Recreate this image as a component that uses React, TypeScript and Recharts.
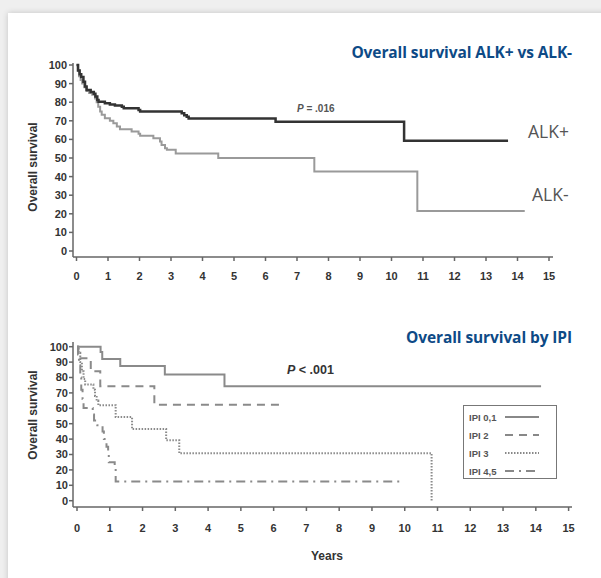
import React from "react";
import { LineChart, Line, XAxis, YAxis, Legend } from "recharts";

// Kaplan-Meier steps: [years, % surviving]
const alkPosPoints = [
  [0, 100], [0.05, 97], [0.1, 95], [0.15, 93.5], [0.22, 91], [0.27, 88.5],
  [0.32, 86.5], [0.45, 85.5], [0.55, 84.5], [0.6, 83], [0.66, 81.2],
  [0.7, 80.3], [0.9, 79.4], [1.06, 78.8], [1.22, 78.2], [1.44, 77.6],
  [1.5, 76.7], [1.97, 75.8], [2.02, 75], [3.34, 74], [3.42, 73],
  [3.5, 72.2], [3.56, 71.3], [6.32, 69.5], [10.4, 59.3], [13.7, 59.3],
];
const alkNegPoints = [
  [0, 100], [0.04, 97], [0.08, 94], [0.13, 92], [0.18, 90], [0.25, 88],
  [0.32, 86], [0.4, 85], [0.5, 84], [0.59, 82], [0.64, 80], [0.69, 77.6],
  [0.75, 75], [0.8, 73.2], [0.9, 71.4], [1.06, 70], [1.17, 68.7],
  [1.28, 66.9], [1.38, 65.5], [1.75, 64.2], [1.97, 63], [2.02, 61.9],
  [2.44, 60.6], [2.65, 58.9], [2.7, 57], [2.81, 55.3], [2.87, 54.4],
  [3.15, 52.4], [4.5, 50], [7.55, 42.8], [10.82, 21.5], [14.23, 21.5],
];
const ipi01Points = [
  [0, 100], [0.72, 96.5], [0.77, 92], [1.32, 87.5], [2.68, 82], [4.5, 74.3],
  [14.16, 74.3],
];
const ipi2Points = [
  [0, 100], [0.04, 92.5], [0.42, 84], [0.71, 74.3], [2.36, 62.3], [6.22, 62.3],
];
const ipi3Points = [
  [0, 100], [0.05, 96], [0.1, 90], [0.15, 84], [0.2, 79], [0.25, 75.5],
  [0.5, 72], [0.55, 68], [0.6, 65], [0.65, 62], [1.18, 54.3], [1.68, 46.5],
  [2.72, 39.2], [3.12, 30.8], [10.82, 30.8], [10.82, 0],
];
const ipi45Points = [
  [0, 100], [0.03, 95], [0.06, 88], [0.1, 80], [0.13, 72], [0.17, 66],
  [0.2, 60.2], [0.48, 56], [0.52, 52], [0.62, 49], [0.78, 45], [0.82, 40],
  [0.9, 35], [0.95, 29.8], [0.97, 25], [1.15, 21], [1.18, 12.5], [9.85, 12.5],
];

const yearTicks = [0, 1, 2, 3, 4, 5, 6, 7, 8, 9, 10, 11, 12, 13, 14, 15];
const survivalTicks = [0, 10, 20, 30, 40, 50, 60, 70, 80, 90, 100];

const toRows = (pts: number[][]) => pts.map(([t, s]) => ({ t, s }));

const ipiSeries = [
  { name: "IPI 0,1", data: toRows(ipi01Points), dash: undefined },
  { name: "IPI 2", data: toRows(ipi2Points), dash: "8 6" },
  { name: "IPI 3", data: toRows(ipi3Points), dash: "1.5 1.5" },
  { name: "IPI 4,5", data: toRows(ipi45Points), dash: "9 5 2 5" },
];

const axisFont = "'Liberation Sans', Arial, sans-serif";
const tickStyle = { fill: "#333", fontSize: 11, fontWeight: 700, fontFamily: axisFont };
const titleStyle: React.CSSProperties = {
  position: "absolute",
  right: 29,
  fontFamily: "'Open Sans', sans-serif",
  fontWeight: 700,
  fontSize: 15.5,
  letterSpacing: -0.1,
  color: "#0d4a86",
  lineHeight: "18px",
  whiteSpace: "nowrap",
  transform: "translateY(-50%)",
};

const yLabel = (cy: number): React.CSSProperties => ({
  position: "absolute",
  left: 33,
  top: cy,
  transform: "translate(-50%, -50%) rotate(-90deg)",
  fontFamily: axisFont,
  fontWeight: 700,
  fontSize: 12,
  color: "#333",
  whiteSpace: "nowrap",
});

const IpiLegend = () => (
  <div
    style={{
      position: "absolute",
      left: 463,
      top: 405,
      width: 92,
      height: 72,
      border: "1.5px solid #777",
      background: "#fff",
    }}
  >
    {ipiSeries.map((s, i) => (
      <div
        key={s.name}
        style={{ position: "absolute", left: 5, top: 4 + i * 18, height: 14, display: "flex", alignItems: "center" }}
      >
        <span style={{ width: 36, fontFamily: axisFont, fontWeight: 700, fontSize: 9.5, color: "#555" }}>{s.name}</span>
        <svg width={34} height={6}>
          <line x1={0} y1={3} x2={34} y2={3} stroke="#888" strokeWidth={2} strokeDasharray={s.dash} />
        </svg>
      </div>
    ))}
  </div>
);

export default function App() {
  return (
    <div style={{ position: "absolute", left: 0, top: 0, width: 601, height: 578, background: "#efefef", overflow: "hidden" }}>
      <div
        style={{
          position: "absolute",
          left: 8,
          top: 13,
          width: 620,
          height: 600,
          background: "#fff",
          boxShadow: "0 0 6px rgba(0,0,0,0.18)",
        }}
      />

      <div style={{ position: "absolute", left: 0, top: 0 }}>
        <LineChart width={601} height={300} margin={{ top: 63, right: 48, bottom: 13, left: 13 }}>
          <XAxis
            type="number"
            dataKey="t"
            domain={[0, 15]}
            ticks={yearTicks}
            interval={0}
            padding={{ left: 3.5, right: 4 }}
            stroke="#666"
            strokeWidth={1.5}
            tickSize={4}
            tickMargin={11}
            tick={tickStyle}
            height={30}
          />
          <YAxis
            type="number"
            domain={[0, 100]}
            ticks={survivalTicks}
            interval={0}
            padding={{ top: 2, bottom: 6 }}
            stroke="#666"
            strokeWidth={1.5}
            tickSize={4}
            tickMargin={2}
            tick={tickStyle}
            width={60}
          />
          <Line data={toRows(alkNegPoints)} dataKey="s" name="ALK-" type="stepAfter" stroke="#9a9a9a" strokeWidth={2} dot={false} isAnimationActive={false} />
          <Line data={toRows(alkPosPoints)} dataKey="s" name="ALK+" type="stepAfter" stroke="#333" strokeWidth={2.5} dot={false} isAnimationActive={false} />
        </LineChart>
      </div>

      <div style={{ position: "absolute", left: 0, top: 290 }}>
        <LineChart width={601} height={288} margin={{ top: 52, right: 29, bottom: 41, left: 13 }}>
          <XAxis
            type="number"
            dataKey="t"
            domain={[0, 15]}
            ticks={yearTicks}
            interval={0}
            padding={{ left: 4, right: 3.4 }}
            stroke="#666"
            strokeWidth={1.5}
            tickSize={4}
            tickMargin={13}
            tick={tickStyle}
            height={30}
          />
          <YAxis
            type="number"
            domain={[0, 100]}
            ticks={survivalTicks}
            interval={0}
            padding={{ top: 4.7, bottom: 6.3 }}
            stroke="#666"
            strokeWidth={1.5}
            tickSize={4}
            tickMargin={1}
            tick={tickStyle}
            width={60}
          />
          {ipiSeries.map((s) => (
            <Line
              key={s.name}
              data={s.data}
              dataKey="s"
              name={s.name}
              type="stepAfter"
              stroke="#8a8a8a"
              strokeWidth={2}
              strokeDasharray={s.dash}
              dot={false}
              isAnimationActive={false}
            />
          ))}
          <Legend content={() => null} />
        </LineChart>
      </div>

      <div style={{ ...titleStyle, top: 52 }}>Overall survival ALK+ vs ALK-</div>
      <div style={{ ...titleStyle, top: 337 }}>Overall survival by IPI</div>

      <div style={yLabel(167)}>Overall survival</div>
      <div style={yLabel(415)}>Overall survival</div>

      <div style={{ position: "absolute", left: 297, top: 108, transform: "translateY(-50%)", fontFamily: axisFont, fontWeight: 700, fontSize: 10, color: "#555", whiteSpace: "nowrap" }}>
        <i>P</i> = .016
      </div>
      <div style={{ position: "absolute", left: 287, top: 370, transform: "translateY(-50%)", fontFamily: axisFont, fontWeight: 700, fontSize: 12.5, color: "#333", whiteSpace: "nowrap" }}>
        <i>P</i> &lt; .001
      </div>

      <div style={{ position: "absolute", left: 528, top: 131, transform: "translateY(-50%)", fontFamily: "'Open Sans', sans-serif", fontSize: 17.5, color: "#555" }}>ALK+</div>
      <div style={{ position: "absolute", left: 532, top: 194, transform: "translateY(-50%)", fontFamily: "'Open Sans', sans-serif", fontSize: 17.5, color: "#555" }}>ALK-</div>

      <div style={{ position: "absolute", left: 327, top: 556, transform: "translate(-50%, -50%)", fontFamily: axisFont, fontWeight: 700, fontSize: 12, color: "#333" }}>Years</div>

      <IpiLegend />
    </div>
  );
}
